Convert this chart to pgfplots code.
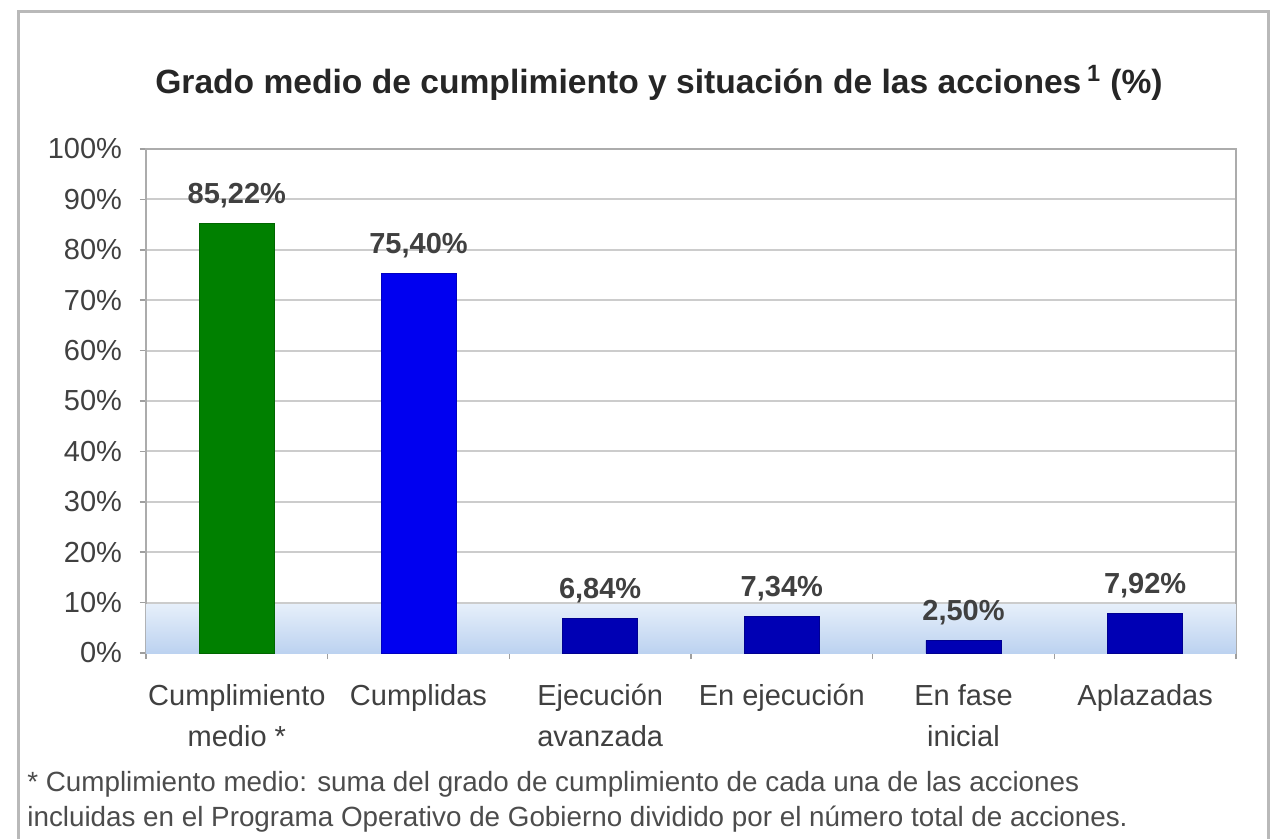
\documentclass[border=0pt]{standalone}
\usepackage{fontspec}
\setmainfont{Liberation Sans}
\usepackage{pgfplots}
\pgfplotsset{compat=1.18}
\definecolor{bargreen}{RGB}{0,128,0}
\definecolor{barblue}{RGB}{0,0,240}
\definecolor{bardark}{RGB}{0,0,180}
\definecolor{bandtop}{RGB}{230,239,250}
\definecolor{bandbot}{RGB}{188,210,240}
\begin{document}
\begin{tikzpicture}
\useasboundingbox (0,0) rectangle (643pt,-419.5pt);
\fill[white] (0,0) rectangle (643pt,-419.5pt);
\draw[gray!55, line width=1.5pt] (9pt,-420pt) -- (9pt,-6pt) -- (634pt,-6pt) -- (634pt,-420pt);
\node[font=\bfseries\fontsize{16.8}{20}\selectfont, text=black!85] at (329.5pt,-41.5pt)
  {Grado medio de cumplimiento y situación de las acciones\,\textsuperscript{1} (\%)};
\begin{axis}[
    at={(73pt,-326.5pt)}, anchor=south west,
    scale only axis, width=545pt, height=252pt,
    /pgf/number format/assume math mode=true,
    xmin=-0.5, xmax=5.5, ymin=0, ymax=100,
    ytick={0,10,...,100},
    yticklabel={\pgfmathprintnumber{\tick}\%},
    yticklabel style={font=\fontsize{14.5}{16}\selectfont, text=black!75, xshift=-5.5pt},
    xtick={0,...,5},
    xticklabels={Cumplimiento\\medio *, Cumplidas, Ejecución\\avanzada, En ejecución, En fase\\inicial, Aplazadas},
    xticklabel style={font=\fontsize{14.5}{20.5}\selectfont, align=center, text=black!75, yshift=-9pt},
    major x tick style={draw=none},
    minor xtick={-0.5,0.5,...,5.5},
    tick align=outside, ytick pos=left, xtick pos=bottom,
    major tick length=3pt, minor tick length=3pt,
    tick style={gray!75, line width=0.8pt},
    axis line style={gray!65, line width=0.8pt},
    ymajorgrids, grid style={gray!40, line width=1pt},
    ybar, bar width=37.5pt, bar shift=0pt,
    nodes near coords={\pgfmathprintnumber[fixed,fixed zerofill,precision=2,use comma]{\pgfplotspointmeta}\%},
    every node near coord/.append style={font=\bfseries\fontsize{14.5}{16}\selectfont, text=black!75, anchor=south, yshift=4pt},
  ]
  \fill[top color=bandtop, bottom color=bandbot] (axis cs:-0.5,0) rectangle (axis cs:5.5,9.7);
  \addplot[fill=bargreen, draw=bargreen!80!black] coordinates {(0,85.22)};
  \addplot[fill=barblue, draw=barblue!80!black] coordinates {(1,75.40)};
  \addplot[fill=bardark, draw=bardark!80!black] coordinates {(2,6.84) (3,7.34) (4,2.50) (5,7.92)};
\end{axis}
\node[anchor=west, inner sep=1pt, font=\fontsize{13.9}{16}\selectfont, text=black!70] at (12.5pt,-392pt)
  {* Cumplimiento medio: suma del grado de cumplimiento de cada una de las acciones};
\node[anchor=west, inner sep=1pt, font=\fontsize{13.9}{16}\selectfont, text=black!70] at (12.5pt,-409.5pt)
  {incluidas en el Programa Operativo de Gobierno dividido por el número total de acciones.};
\end{tikzpicture}
\end{document}
